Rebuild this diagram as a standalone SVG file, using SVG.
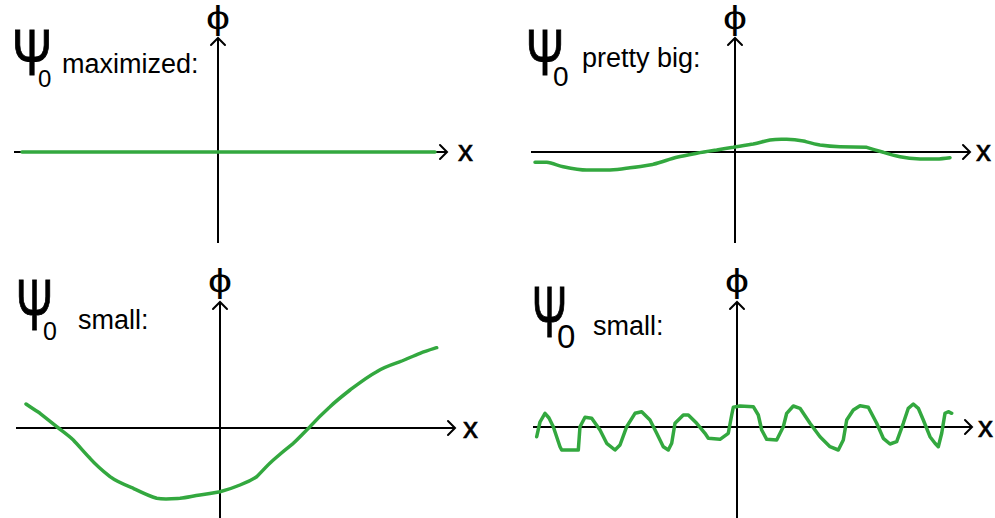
<svg xmlns="http://www.w3.org/2000/svg" width="995" height="518" viewBox="0 0 995 518">
<defs>
<style>
.ax{stroke:#000;stroke-width:2;fill:none}
.hd{stroke:#000;stroke-width:2;fill:none;stroke-linecap:round;stroke-linejoin:miter}
.g{stroke:#33a83f;stroke-width:3.5;fill:none;stroke-linecap:round;stroke-linejoin:round}
.t{font-family:"Liberation Sans",Arial,sans-serif;fill:#000}
.psi{stroke:#000;stroke-width:1}
.lab{font-size:27px}
.phi{font-size:33px}
.x{font-size:30px;stroke:#000;stroke-width:0.6}
</style>
</defs>
<rect width="995" height="518" fill="#fff"/>
<g id="panel-tl">
<text class="t psi" x="12" y="75" font-size="64" textLength="40" lengthAdjust="spacingAndGlyphs">Ψ</text>
<text class="t" x="38" y="87" font-size="24">0</text>
<text class="t lab" x="62" y="73">maximized:</text>
<text class="t phi" x="206" y="29" textLength="24" lengthAdjust="spacingAndGlyphs">ϕ</text>
<line class="ax" x1="218" y1="38" x2="218" y2="243"/>
<path class="hd" d="M211,45 L218,38 L225,45"/>
<line class="ax" x1="14" y1="152" x2="447" y2="152"/>
<path class="hd" d="M440,145 L447,152 L440,159"/>
<text class="t x" x="458" y="161">x</text>
<line class="g" x1="22" y1="152" x2="435" y2="152"/>
</g>
<g id="panel-tr">
<text class="t psi" x="526" y="75" font-size="64" textLength="38" lengthAdjust="spacingAndGlyphs">Ψ</text>
<text class="t" x="553" y="86" font-size="28">0</text>
<text class="t lab" x="582" y="67">pretty big:</text>
<text class="t phi" x="723" y="29" textLength="24" lengthAdjust="spacingAndGlyphs">ϕ</text>
<line class="ax" x1="735" y1="38" x2="735" y2="243"/>
<path class="hd" d="M728,45 L735,38 L742,45"/>
<line class="ax" x1="531" y1="152" x2="970" y2="152"/>
<path class="hd" d="M963,145 L970,152 L963,159"/>
<text class="t x" x="976" y="161">x</text>
<path class="g" d="M535,162.3 L546.7,162.3 C552,163 558,165.5 563.3,166.7 C572,168.5 580,170 586.7,170 L610,170 C618,169.5 624,168.5 630,167.7 C640,166.5 646,165.5 653.3,164.3 C662,162 670,159 676.7,157.3 C684,155.5 690,154.5 696.7,153.3 C703,152 710,151 716.7,150 C722,149 728,148 733.3,147.3 C740,146 747,145 753.3,144 C760,142.5 765,141 770,140 C776,139 781,139 786.7,139.3 C792,139.5 797,140 803.3,141 C809,142.5 814,144 820,145 C827,146 833,146.5 840,146.7 L866.7,147.3 C872,149 877,150.5 883.3,152.3 C889,154 894,155.5 900,156.7 C906,158 913,158.8 920,159 L936.7,159 C941,158.8 946,158.2 950,157.7"/>
</g>
<g id="panel-bl">
<text class="t psi" x="16" y="330" font-size="73" textLength="37" lengthAdjust="spacingAndGlyphs">Ψ</text>
<text class="t" x="43" y="340" font-size="25">0</text>
<text class="t lab" x="78" y="329">small:</text>
<text class="t phi" x="208" y="292" textLength="24" lengthAdjust="spacingAndGlyphs">ϕ</text>
<line class="ax" x1="220" y1="302" x2="220" y2="518"/>
<path class="hd" d="M213,309 L220,302 L227,309"/>
<line class="ax" x1="16" y1="428" x2="455" y2="428"/>
<path class="hd" d="M448,421 L455,428 L448,435"/>
<text class="t x" x="463" y="438">x</text>
<path class="g" d="M26,404 C31,407.5 35,410 40,413.3 C46,418 51,422 56.7,426.7 C62,431 68,435 73.3,440 C79,446 84,452 90,458.3 C96,465 103,471 110,476.7 C117,482 125,485 133.3,488.3 C141,492 149,496 156.7,498.3 C164,499.5 172,498.8 180,498.3 C187,497.5 193,496 200,495 C207,494 213,493 220,491.7 C227,490 234,487.5 240,485 C246,482.5 252,480 256.7,476.7 C262,471.5 267,465.5 273.3,460 C280,454 286,449 293.3,443.3 C299,438 304,432.5 310,426.7 C316,420 323,413 330,406.7 C336,401 343,395.5 350,390 C358,384 367,377 376.7,371.7 C384,367 392,364.5 400,361.7 C407,359 413,356 420,353.3 C426,351 431,349.5 436.7,347.7"/>
</g>
<g id="panel-br">
<text class="t psi" x="532" y="337" font-size="73" textLength="35" lengthAdjust="spacingAndGlyphs">Ψ</text>
<text class="t" x="557" y="348" font-size="33">0</text>
<text class="t lab" x="593" y="335">small:</text>
<text class="t phi" x="725" y="292" textLength="24" lengthAdjust="spacingAndGlyphs">ϕ</text>
<line class="ax" x1="737" y1="302" x2="737" y2="518"/>
<path class="hd" d="M730,309 L737,302 L744,309"/>
<line class="ax" x1="533" y1="427" x2="972" y2="427"/>
<path class="hd" d="M965,420 L972,427 L965,434"/>
<text class="t x" x="978" y="437">x</text>
<polyline class="g" points="536.7,436.7 540,422 545,413.3 549,418 553.3,426.7 560,446.7 561.7,450 578.3,450 580,426.7 585,417.3 591.7,418.3 600,430 606.7,443.3 615,450 620,445 626.7,426.7 635,413.3 641.7,411.7 650,420 656.7,433.3 663.3,446.7 668.3,450 671.7,443.3 675,423.3 683.3,415 688.3,415 696.7,423.3 705,433.3 708.3,438.3 720,439.3 728.3,433.3 731.7,415 733.3,407.3 740,406 753.3,406.7 758.3,415 761.7,430 766.7,439.3 776.7,440 783.3,426.7 786.7,413.3 793.3,406 800,408.3 810,423.3 820,436.7 830,446.7 838.3,450 843.3,440 846.7,420 853.3,410 860,405.7 868.3,407.3 876.7,423.3 883.3,438.3 890,444 896.7,441.7 903.3,423.3 908.3,408.3 913.3,404 918.3,408.3 923.3,420 930,436.7 935,443.3 938.3,446.7 941.7,433.3 945,413.3 948.3,411.7 951.7,413.3"/>
</g>
</svg>
